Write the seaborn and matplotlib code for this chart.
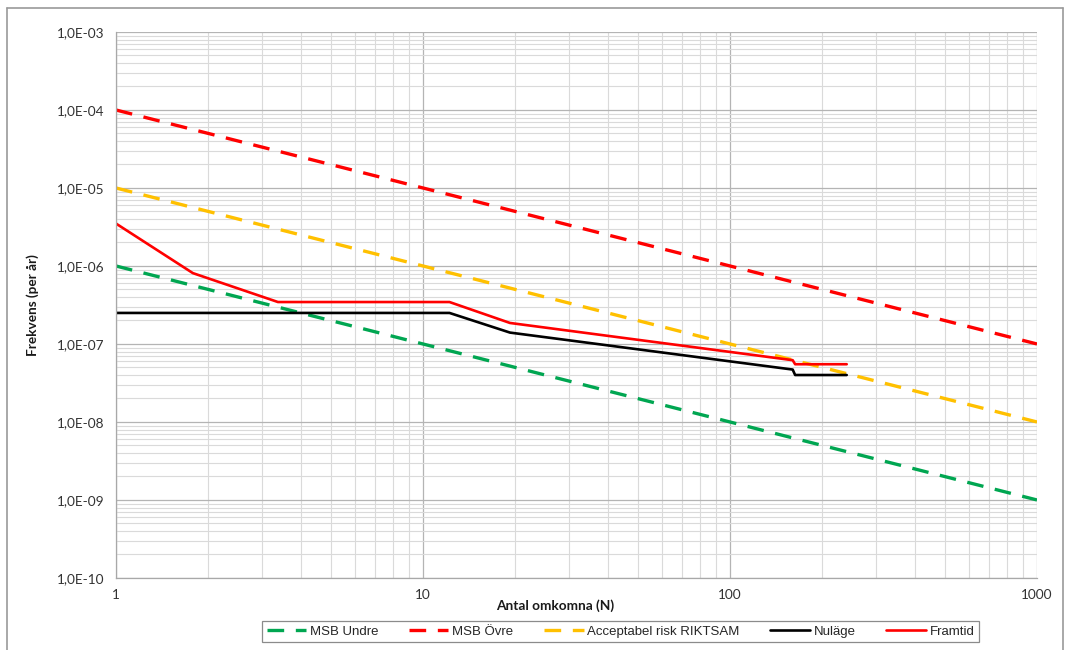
import matplotlib
matplotlib.use("Agg")
import matplotlib.pyplot as plt
import matplotlib.ticker as mticker
import seaborn as sns
import pandas as pd

# Limit lines (F-N criteria)
limit_N = [1, 1000]
msb_undre = [1e-6, 1e-9]
msb_ovre = [1e-4, 1e-7]
riktsam = [1e-5, 1e-8]

# Societal risk curves
nulage_N = [1, 12.2, 19.2, 160, 163, 240]
nulage_f = [2.5e-7, 2.5e-7, 1.4e-7, 4.7e-8, 4.0e-8, 4.0e-8]
framtid_N = [1, 1.78, 3.37, 12.2, 19.2, 160, 163, 240]
framtid_f = [3.5e-6, 8.1e-7, 3.45e-7, 3.45e-7, 1.86e-7, 6.2e-8, 5.5e-8, 5.5e-8]

y_ticks = [1e-10, 1e-9, 1e-8, 1e-7, 1e-6, 1e-5, 1e-4, 1e-3]
x_ticks = [1, 10, 100, 1000]

sns.set_theme(style="white")
plt.rcParams["font.family"] = ["Lato", "DejaVu Sans"]

fig = plt.figure(figsize=(10.66, 6.5), dpi=100)
ax = fig.add_axes([0.1088, 0.1108, 0.864, 0.8400])

series = [
    ("MSB Undre", limit_N, msb_undre, "#00A651", (0, (5, 3.5)), 2.4),
    ("MSB Övre", limit_N, msb_ovre, "#FF0000", (0, (5, 3.5)), 2.4),
    ("Acceptabel risk RIKTSAM", limit_N, riktsam, "#FFC000", (0, (5, 3.5)), 2.4),
    ("Nuläge", nulage_N, nulage_f, "#000000", "-", 1.9),
    ("Framtid", framtid_N, framtid_f, "#FF0000", "-", 1.9),
]
for name, xs, ys, color, ls, lw in series:
    df = pd.DataFrame({"N": xs, "F": ys})
    sns.lineplot(data=df, x="N", y="F", ax=ax, color=color, linestyle=ls,
                 linewidth=lw, label=name, estimator=None, sort=False)

ax.set_xscale("log")
ax.set_yscale("log")
ax.set_xlim(1, 1000)
ax.set_ylim(1e-10, 1e-3)

ax.set_yticks(y_ticks)
ax.yaxis.set_major_formatter(mticker.FuncFormatter(
    lambda v, p: ("%.1E" % v).replace(".", ",")))
ax.set_xticks(x_ticks)
ax.xaxis.set_major_formatter(mticker.FuncFormatter(lambda v, p: "%d" % v))
ax.xaxis.set_minor_locator(mticker.LogLocator(base=10, subs=range(2, 10)))
ax.yaxis.set_minor_locator(mticker.LogLocator(base=10, subs=range(2, 10)))
ax.xaxis.set_minor_formatter(mticker.NullFormatter())
ax.yaxis.set_minor_formatter(mticker.NullFormatter())

ax.grid(which="major", color="#b4b4b4", linewidth=0.9)
ax.grid(which="minor", color="#dadada", linewidth=0.8)
ax.set_axisbelow(True)
ax.tick_params(axis="both", which="major", labelsize=9.8, colors="#333333",
               length=3, width=0.8, pad=5)
ax.tick_params(axis="y", which="major", color="#b4b4b4")
ax.tick_params(axis="x", which="major", length=0, pad=8)
ax.tick_params(which="minor", length=0)
for side in ["top", "right"]:
    ax.spines[side].set_visible(False)
for side in ["left", "bottom"]:
    ax.spines[side].set_color("#a8a8a8")
    ax.spines[side].set_linewidth(0.9)

ax.set_xlabel("")
ax.set_ylabel("")
fig.text(555 / 1066, 1 - 606 / 650, "Antal omkomna (N)", ha="center",
         va="center", fontsize=9.8, fontweight="bold", color="#1a1a1a")
fig.text(33 / 1066, 1 - 305 / 650, "Frekvens (per år)", ha="center",
         va="center", rotation=90, fontsize=9.8, fontweight="bold",
         color="#1a1a1a")

handles, labels = ax.get_legend_handles_labels()
ax.legend_.remove()
leg = fig.legend(handles, labels, loc="center", ncol=5,
                 bbox_to_anchor=(620.5 / 1066, 1 - 631.5 / 650),
                 frameon=True, fancybox=False, edgecolor="#6e6e6e",
                 handlelength=3.0, handletextpad=0.3,
                 columnspacing=2.3, borderpad=0.35,
                 prop={"family": ["Liberation Sans", "DejaVu Sans"], "size": 9.5})
leg.get_frame().set_linewidth(0.9)

# Outer chart-area border
for xs_, ys_ in [([7, 7], [650, 8]), ([7, 1063], [8, 8]), ([1063, 1063], [8, 650])]:
    fig.add_artist(plt.Line2D([x / 1066 for x in xs_], [1 - y / 650 for y in ys_],
                              color="#9a9a9a", linewidth=1.2, transform=fig.transFigure))

fig.savefig("out.png", dpi=100, facecolor="white")
